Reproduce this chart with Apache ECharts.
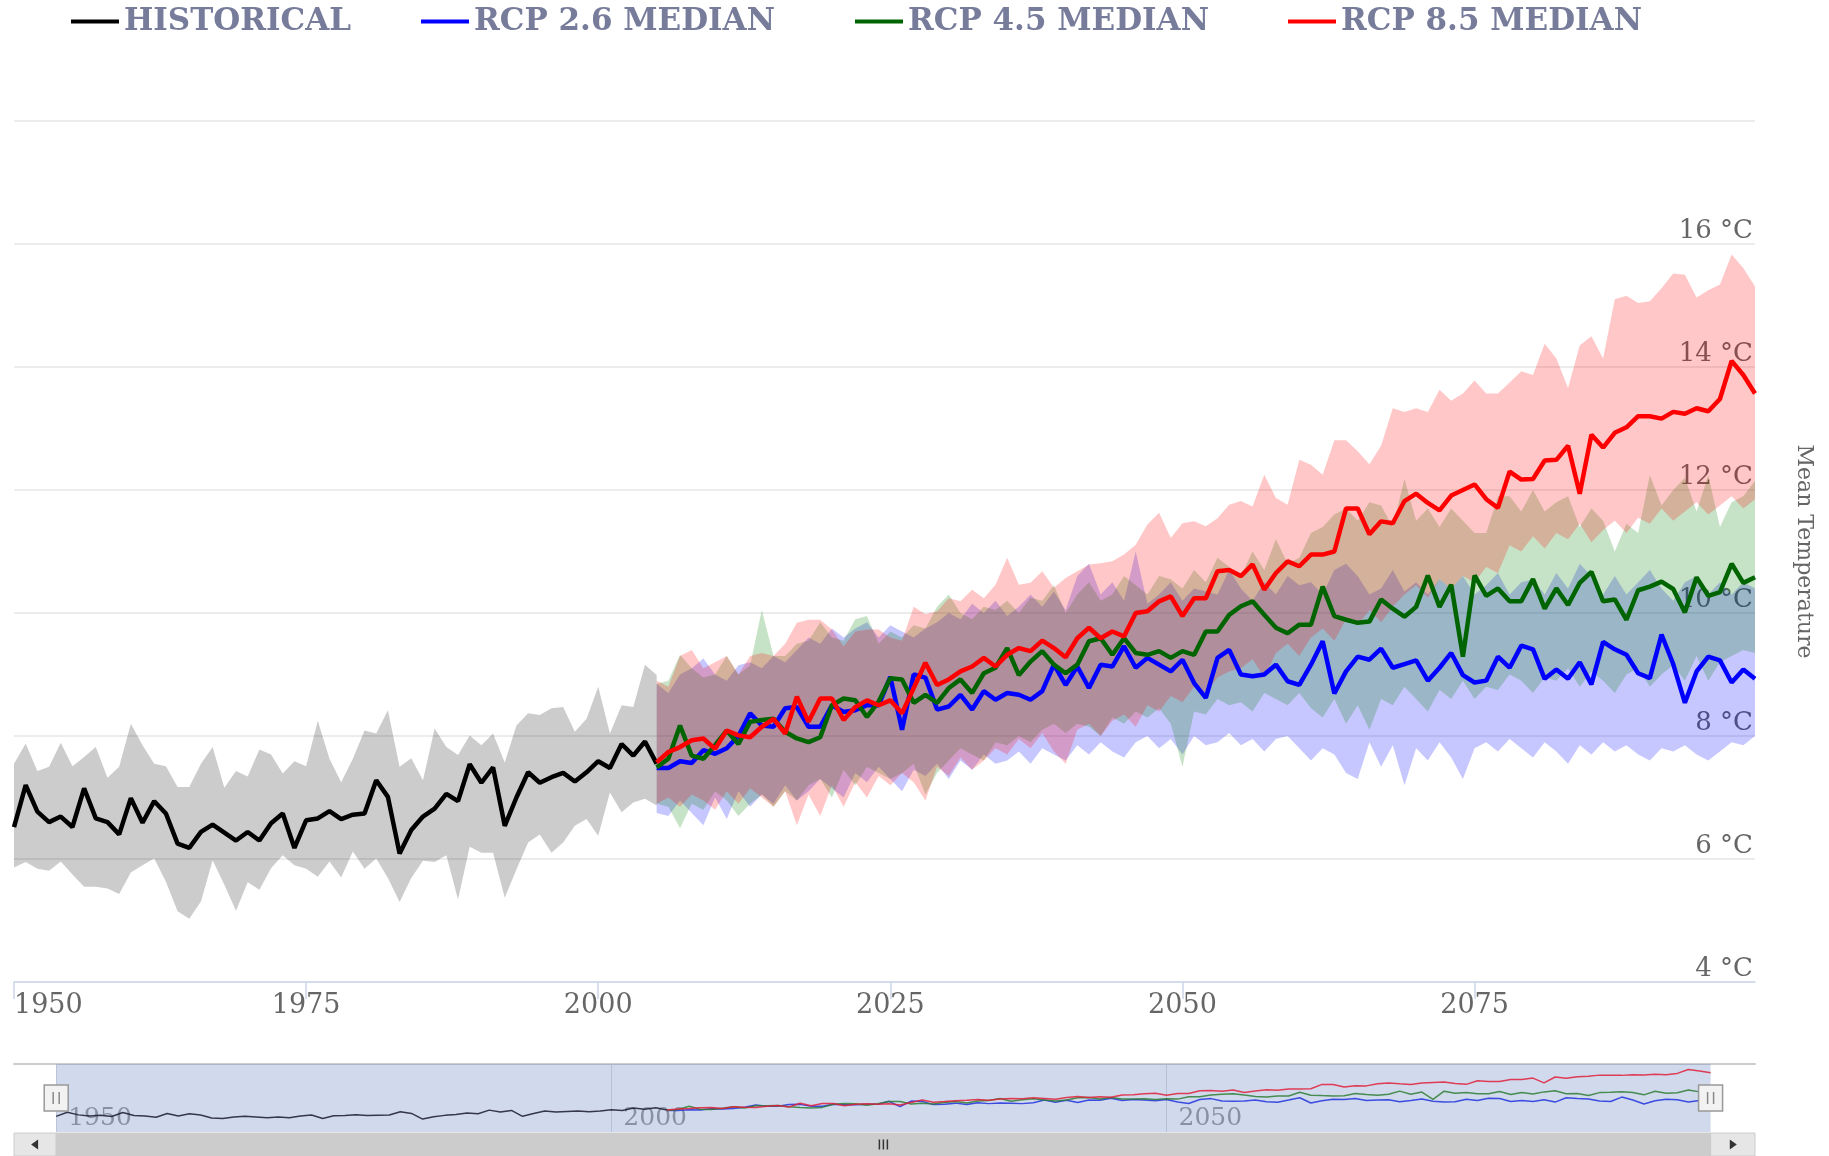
<!DOCTYPE html>
<html>
<head>
<meta charset="utf-8">
<script src="https://cdn.jsdelivr.net/npm/echarts@6/dist/echarts.min.js"></script>
<style>
html,body{margin:0;padding:0;background:#fff;}
#chart{width:1829px;height:1156px;}
</style>
</head>
<body>
<div id="chart"></div>
<script>
// ---------------- DATA ----------------
const HIST_START = 1950;   // first year of historical series
const RCP_START = 2005;    // first year of projections

const xTickYears = [1950, 1975, 2000, 2025, 2050, 2075];
const navTickYears = [1950, 2000, 2050];

const histMedian = [6.52,7.2,6.77,6.6,6.69,6.52,7.15,6.66,6.6,6.4,
  6.99,6.59,6.94,6.74,6.25,6.18,6.44,6.56,6.43,6.3,
  6.44,6.3,6.58,6.74,6.18,6.63,6.66,6.78,6.65,6.72,
  6.74,7.28,7.01,6.09,6.47,6.69,6.82,7.06,6.94,7.54,
  7.24,7.49,6.54,7.0,7.41,7.24,7.33,7.4,7.26,7.41,
  7.59,7.48,7.87,7.68,7.91,7.55];
const histHigh = [7.55,7.88,7.43,7.5,7.89,7.51,7.66,7.82,7.32,7.5,
  8.2,7.85,7.55,7.51,7.17,7.17,7.55,7.82,7.16,7.43,
  7.34,7.78,7.7,7.39,7.59,7.51,8.25,7.63,7.25,7.63,
  8.09,8.04,8.42,7.5,7.64,7.28,8.12,7.82,7.69,8.01,
  7.85,8.04,7.57,8.17,8.37,8.34,8.45,8.47,8.07,8.28,
  8.8,8.04,8.5,8.47,9.16,8.99];
const histLow = [5.86,5.95,5.84,5.81,5.96,5.75,5.55,5.55,5.52,5.43,
  5.78,5.9,6.01,5.63,5.15,5.03,5.31,5.98,5.58,5.16,
  5.62,5.5,5.85,6.06,5.9,5.84,5.71,5.96,5.7,6.12,
  5.84,6.01,5.69,5.3,5.69,5.97,5.95,6.06,5.34,6.2,
  6.1,6.1,5.37,5.83,6.27,6.4,6.1,6.27,6.54,6.65,
  6.38,7.08,6.76,6.92,6.98,6.87];

const rcp26Median = [7.48,7.48,7.59,7.56,7.77,7.71,7.8,8.0,8.37,8.17,
  8.15,8.45,8.47,8.15,8.15,8.5,8.39,8.42,8.5,8.5,
  8.96,8.1,9.0,8.95,8.43,8.48,8.67,8.43,8.73,8.59,
  8.7,8.67,8.59,8.73,9.16,8.83,9.13,8.78,9.16,9.13,
  9.46,9.11,9.27,9.16,9.05,9.24,8.86,8.62,9.27,9.4,
  9.0,8.97,9.0,9.16,8.89,8.83,9.16,9.54,8.69,9.05,
  9.29,9.24,9.42,9.11,9.17,9.23,8.9,9.11,9.35,8.99,
  8.87,8.9,9.29,9.11,9.47,9.41,8.93,9.08,8.93,9.2,
  8.84,9.53,9.41,9.32,9.02,8.94,9.65,9.17,8.54,9.05,
  9.29,9.23,8.87,9.08,8.93];
const rcp26High = [8.85,8.7,9.0,9.1,9.26,9.0,8.9,9.15,9.2,9.1,
  9.3,9.2,9.4,9.6,9.5,9.75,9.6,9.75,9.85,9.6,
  9.8,9.7,9.6,9.75,9.85,10.0,9.9,10.15,10.0,10.2,
  9.95,10.1,10.3,10.1,10.35,10.05,10.6,10.8,10.3,10.5,
  10.2,11.0,10.15,10.3,10.5,10.2,10.4,10.35,10.3,10.7,
  10.4,10.2,10.5,10.3,10.6,10.45,10.5,10.3,10.7,10.8,
  10.6,10.3,10.4,10.7,10.35,10.5,10.3,10.55,10.4,10.6,
  10.3,10.45,10.65,10.3,10.5,10.55,10.3,10.65,10.4,10.8,
  10.6,10.3,10.6,10.3,10.5,10.7,10.4,10.2,10.5,10.6,
  10.3,10.5,10.3,10.5,10.4];
const rcp26Low = [6.75,6.7,6.95,6.75,6.55,7.0,6.65,7.1,6.85,7.05,
  6.9,7.2,6.95,7.1,7.3,7.15,7.0,7.4,7.25,7.5,
  7.3,7.1,7.45,7.35,7.55,7.3,7.6,7.45,7.7,7.55,
  7.6,7.75,7.55,7.8,7.7,7.6,7.85,7.7,7.9,7.75,
  7.65,7.9,8.0,7.8,7.95,7.7,8.0,7.85,7.9,8.05,
  7.85,7.95,7.75,7.95,8.0,7.8,7.6,7.8,7.7,7.4,
  7.3,7.9,7.5,7.85,7.2,7.8,7.6,7.9,7.65,7.3,
  7.8,7.9,7.75,7.95,7.8,7.65,7.9,7.75,7.55,7.85,
  7.7,7.9,7.75,7.85,7.7,7.6,7.8,7.75,7.85,7.7,
  7.6,7.75,7.9,7.85,8.0];

const rcp45Median = [7.49,7.63,8.17,7.68,7.63,7.85,8.09,7.87,8.23,8.26,
  8.28,8.07,7.96,7.9,7.98,8.5,8.61,8.58,8.31,8.56,
  8.94,8.92,8.54,8.67,8.54,8.78,8.92,8.7,9.02,9.11,
  9.43,8.99,9.21,9.38,9.16,9.02,9.16,9.54,9.59,9.32,
  9.59,9.35,9.32,9.38,9.27,9.38,9.32,9.7,9.7,9.97,
  10.11,10.19,9.97,9.76,9.67,9.81,9.81,10.43,9.95,9.89,
  9.84,9.86,10.22,10.07,9.94,10.1,10.61,10.1,10.46,9.29,
  10.61,10.28,10.4,10.19,10.19,10.55,10.07,10.4,10.13,10.49,
  10.67,10.19,10.22,9.89,10.37,10.43,10.51,10.39,10.01,10.58,
  10.28,10.34,10.8,10.49,10.58];
const rcp45High = [8.85,8.9,9.32,9.1,8.95,9.0,9.3,9.0,9.15,10.05,
  9.3,9.3,9.5,9.55,9.85,9.6,9.55,9.9,9.95,9.5,
  9.7,9.6,9.8,9.75,10.1,10.3,10.0,9.9,10.1,10.05,
  10.2,10.0,10.25,10.2,10.45,10.0,10.3,10.5,10.2,10.3,
  10.6,10.45,10.3,10.6,10.55,10.4,10.7,10.5,10.9,10.75,
  10.6,11.0,10.7,11.2,10.8,10.9,11.3,11.4,11.6,11.7,
  11.5,11.8,11.75,11.4,12.18,11.5,11.7,11.4,11.7,11.5,
  11.3,11.3,11.9,11.9,11.65,12.0,11.65,11.8,11.9,11.4,
  11.7,11.5,11.0,11.45,11.3,12.24,11.75,12.0,12.2,11.65,
  12.24,11.4,11.8,11.9,12.15];
const rcp45Low = [6.9,6.85,6.5,6.9,6.8,7.1,6.95,6.7,6.9,7.05,
  6.85,7.1,6.95,7.2,7.3,7.0,7.45,7.2,7.5,7.4,
  7.3,7.4,7.55,7.05,7.4,7.6,7.8,7.7,7.6,7.9,
  7.85,8.0,7.9,8.1,8.2,8.05,8.2,8.15,8.0,8.3,
  8.2,8.4,8.3,8.45,8.2,7.5,8.4,8.35,8.6,8.5,
  8.55,8.4,8.7,8.6,8.5,8.7,8.45,8.3,8.6,8.2,
  8.5,8.1,8.6,8.5,8.8,8.6,8.4,8.75,8.6,8.9,
  8.6,8.8,8.75,9.0,8.9,8.7,8.95,8.9,9.1,8.8,
  9.05,8.9,8.7,9.0,9.1,8.8,9.0,9.15,8.9,9.3,
  8.9,9.2,9.3,9.4,9.35];

const rcp85Median = [7.57,7.74,7.82,7.93,7.96,7.79,8.09,8.01,7.98,8.15,
  8.28,8.04,8.64,8.23,8.61,8.61,8.26,8.47,8.58,8.5,
  8.58,8.37,8.78,9.19,8.83,8.92,9.05,9.13,9.27,9.13,
  9.32,9.43,9.38,9.55,9.43,9.28,9.59,9.76,9.59,9.7,
  9.62,10.0,10.03,10.19,10.27,9.95,10.24,10.24,10.68,10.7,
  10.6,10.79,10.38,10.65,10.84,10.76,10.95,10.95,11.0,11.7,
  11.7,11.28,11.49,11.46,11.82,11.94,11.79,11.67,11.91,12.0,
  12.09,11.85,11.71,12.3,12.17,12.18,12.48,12.49,12.72,11.94,
  12.9,12.69,12.93,13.02,13.2,13.2,13.16,13.27,13.24,13.33,
  13.28,13.48,14.1,13.87,13.57];
const rcp85High = [8.9,8.8,9.3,9.4,9.1,9.2,9.3,9.0,9.3,9.35,
  9.3,9.5,9.84,9.89,9.89,9.73,9.46,9.7,9.73,9.73,
  9.6,9.55,10.1,9.98,10.03,10.24,10.19,10.38,10.24,10.46,
  10.9,10.46,10.49,10.68,10.41,10.57,10.68,10.79,10.81,10.84,
  10.95,11.11,11.44,11.63,11.22,11.46,11.49,11.41,11.54,11.76,
  11.82,11.73,12.25,11.87,11.76,12.49,12.41,12.25,12.81,12.81,
  12.63,12.42,12.72,13.33,13.27,13.33,13.27,13.63,13.45,13.57,
  13.78,13.57,13.57,13.75,13.93,13.87,14.38,14.14,13.66,14.35,
  14.5,14.14,15.1,15.16,15.04,15.07,15.28,15.52,15.5,15.13,
  15.25,15.34,15.83,15.61,15.31];
const rcp85Low = [6.9,7.0,6.85,7.05,6.95,6.8,7.1,6.9,7.15,7.0,
  6.85,7.1,6.55,7.05,6.7,7.2,6.85,7.25,7.0,7.35,
  7.2,7.4,7.25,6.95,7.5,7.35,7.65,7.45,7.6,7.8,
  7.7,7.95,7.8,8.05,7.75,7.55,8.1,8.2,8.0,8.25,
  8.35,8.15,8.5,8.4,8.65,8.55,8.8,8.7,8.95,9.05,
  9.1,9.25,8.95,9.35,9.5,9.3,9.6,9.75,9.55,9.9,
  9.8,10.05,9.85,10.1,10.3,10.45,10.25,10.55,10.4,10.6,
  10.5,10.75,10.65,11.1,11.0,11.25,11.05,11.3,11.2,11.45,
  11.15,11.35,11.5,11.3,11.55,11.45,11.7,11.5,11.65,11.8,
  11.6,11.75,11.9,11.7,11.85];

// ---------------- HELPERS ----------------
const pairs = (start, arr) => arr.map((v, i) => [start + i, v]);

const SERIF = "'DejaVu Serif', 'Liberation Serif', serif";
const NAV_MIN = 1946.2, NAV_MAX = 2103;

const C_HIST = '#000000', C_26 = '#0000ff', C_45 = '#006400', C_85 = '#ff0000';

// range band: one polygon built from upper edge then lower edge, projected by the axes
function bandSeries(name, start, lo, hi, fill) {
  const data = lo.map((l, i) => [start + i, l, hi[i]]);
  return {
    name: name, type: 'custom', data: data, silent: true, z: 1,
    encode: { x: 0, y: [1, 2] },
    renderItem: function (params, api) {
      if (params.dataIndex !== 0) return null;
      const pts = [];
      for (let i = 0; i < data.length; i++) pts.push(api.coord([data[i][0], data[i][2]]));
      for (let i = data.length - 1; i >= 0; i--) pts.push(api.coord([data[i][0], data[i][1]]));
      return { type: 'polygon', shape: { points: pts }, style: { fill: fill, stroke: null } };
    }
  };
}
function medianSeries(name, start, arr, color, z) {
  return { name: name, type: 'line', data: pairs(start, arr), symbol: 'none',
    lineStyle: { color: color, width: 4.5 }, itemStyle: { color: color }, z: z };
}
function navSeries(name, start, arr, color) {
  return { name: name, type: 'line', xAxisIndex: 1, yAxisIndex: 1, data: pairs(start, arr),
    symbol: 'none', lineStyle: { color: color, width: 1.5, opacity: 0.85 }, itemStyle: { color: color },
    silent: true, z: 3 };
}

const legendBase = {
  orient: 'horizontal', top: 1, itemWidth: 48, itemHeight: 4, itemGap: 0, icon: 'rect',
  textStyle: { fontFamily: SERIF, fontWeight: 'bold', fontSize: 31, color: '#777c9b' }
};

const chart = echarts.init(document.getElementById('chart'), null, { renderer: 'canvas' });

const option = {
  animation: false,
  backgroundColor: '#ffffff',
  legend: [
    Object.assign({}, legendBase, { left: 66, data: ['HISTORICAL'] }),
    Object.assign({}, legendBase, { left: 416, data: ['RCP 2.6 MEDIAN'] }),
    Object.assign({}, legendBase, { left: 850, data: ['RCP 4.5 MEDIAN'] }),
    Object.assign({}, legendBase, { left: 1283, data: ['RCP 8.5 MEDIAN'] })
  ],
  grid: [
    { left: 14, right: 74, top: 121, height: 861 },
    { left: 14, right: 74, top: 1064, height: 68 }
  ],
  xAxis: [
    { type: 'value', gridIndex: 0, min: HIST_START, max: 2099,
      axisLine: { show: true, lineStyle: { color: '#ccd6eb', width: 1.5 } },
      axisTick: { show: true, length: 17, customValues: xTickYears, lineStyle: { color: '#ccd6eb', width: 1.5 } },
      axisLabel: { customValues: xTickYears, color: '#666666', fontFamily: SERIF, fontSize: 27, margin: 10,
        alignMinLabel: 'left', formatter: v => String(v) },
      splitLine: { show: false } },
    { type: 'value', gridIndex: 1, min: NAV_MIN, max: NAV_MAX, position: 'bottom',
      axisLine: { show: false },
      axisTick: { show: false, customValues: navTickYears },
      axisLabel: { customValues: navTickYears, inside: true, align: 'left', verticalAlign: 'bottom',
        margin: 1, padding: [0, 0, 0, 12], color: '#999999', fontFamily: SERIF, fontSize: 25,
        formatter: v => String(v) },
      splitLine: { show: true, lineStyle: { color: '#d8dbe3', width: 1 } } },
    { type: 'value', gridIndex: 1, min: NAV_MIN, max: NAV_MAX, position: 'top',
      axisLine: { show: true, lineStyle: { color: '#cccccc', width: 2 } },
      axisTick: { show: false }, axisLabel: { show: false }, splitLine: { show: false } }
  ],
  yAxis: [
    { type: 'value', gridIndex: 0, min: 4, max: 18, interval: 2, position: 'right',
      axisLine: { show: false }, axisTick: { show: false },
      axisLabel: { inside: true, verticalAlign: 'bottom', margin: 2, color: '#666666',
        fontFamily: SERIF, fontSize: 26, formatter: v => (v === 18 ? '' : v + ' °C') },
      splitLine: { show: true, lineStyle: { color: '#e6e6e6', width: 1.5 } },
      name: 'Mean Temperature', nameLocation: 'middle', nameRotate: -90, nameGap: 38,
      nameTextStyle: { color: '#666666', fontFamily: SERIF, fontSize: 22 } },
    { type: 'value', gridIndex: 1, min: 4, max: 15, show: false, splitLine: { show: false } }
  ],
  series: [
    bandSeries('historical range', HIST_START, histLow, histHigh, 'rgba(0,0,0,0.2)'),
    bandSeries('RCP 2.6 range', RCP_START, rcp26Low, rcp26High, 'rgba(0,0,255,0.22)'),
    bandSeries('RCP 4.5 range', RCP_START, rcp45Low, rcp45High, 'rgba(0,128,0,0.22)'),
    bandSeries('RCP 8.5 range', RCP_START, rcp85Low, rcp85High, 'rgba(255,0,0,0.22)'),
    medianSeries('HISTORICAL', HIST_START, histMedian, C_HIST, 5),
    medianSeries('RCP 2.6 MEDIAN', RCP_START, rcp26Median, C_26, 6),
    medianSeries('RCP 4.5 MEDIAN', RCP_START, rcp45Median, C_45, 7),
    medianSeries('RCP 8.5 MEDIAN', RCP_START, rcp85Median, C_85, 8),
    Object.assign(navSeries('HISTORICAL', HIST_START, histMedian, '#1a1a2e'), {
      markArea: { silent: true, itemStyle: { color: 'rgba(102,133,194,0.3)' },
        data: [[{ xAxis: HIST_START }, { xAxis: RCP_START + rcp85Median.length - 1 }]] } }),
    navSeries('RCP 2.6 MEDIAN', RCP_START, rcp26Median, '#2233dd'),
    navSeries('RCP 4.5 MEDIAN', RCP_START, rcp45Median, '#2e7d32'),
    navSeries('RCP 8.5 MEDIAN', RCP_START, rcp85Median, '#e0203a')
  ]
};
chart.setOption(option);

// ---- navigator handles & scrollbar (positions taken from the navigator axis scale) ----
(function () {
  const lastYear = RCP_START + rcp85Median.length - 1;
  const px = v => chart.convertToPixel({ xAxisIndex: 1 }, v);
  const py = v => chart.convertToPixel({ yAxisIndex: 1 }, v);
  const x0 = px(HIST_START), x1 = px(lastYear);
  const gl = px(NAV_MIN), gr = px(NAV_MAX);
  const navTop = py(15), navBot = py(4);
  const hy = (navTop + navBot) / 2;
  const sbTop = navBot + 1, sbH = 1156 - sbTop;
  const sbMid = sbTop + sbH / 2;
  const g = [];
  g.push({ type: 'rect', shape: { x: gl, y: sbTop, width: gr - gl, height: sbH }, style: { fill: '#f2f2f2' }, silent: true, z: 10 });
  g.push({ type: 'rect', shape: { x: gl, y: sbTop, width: x0 - gl, height: sbH }, style: { fill: '#e6e6e6', stroke: '#cccccc', lineWidth: 1 }, silent: true, z: 10 });
  g.push({ type: 'rect', shape: { x: x1, y: sbTop, width: gr - x1, height: sbH }, style: { fill: '#e6e6e6', stroke: '#cccccc', lineWidth: 1 }, silent: true, z: 10 });
  g.push({ type: 'rect', shape: { x: x0, y: sbTop, width: x1 - x0, height: sbH }, style: { fill: '#cccccc', stroke: '#cccccc' }, silent: true, z: 10 });
  const lbx = (gl + x0) / 2, rbx = (x1 + gr) / 2;
  g.push({ type: 'polygon', shape: { points: [[lbx - 4, sbMid], [lbx + 3, sbMid - 5], [lbx + 3, sbMid + 5]] }, style: { fill: '#333333' }, silent: true, z: 11 });
  g.push({ type: 'polygon', shape: { points: [[rbx + 4, sbMid], [rbx - 3, sbMid - 5], [rbx - 3, sbMid + 5]] }, style: { fill: '#333333' }, silent: true, z: 11 });
  const tc = (x0 + x1) / 2;
  [-4, 0, 4].forEach(d => g.push({ type: 'line', shape: { x1: tc + d, y1: sbMid - 5, x2: tc + d, y2: sbMid + 5 }, style: { stroke: '#333333', lineWidth: 1.5 }, silent: true, z: 11 }));
  [x0, x1].forEach(x => {
    g.push({ type: 'rect', shape: { x: x - 12, y: hy - 13, width: 24, height: 26 }, style: { fill: '#f2f2f2', stroke: '#999999', lineWidth: 1.5 }, silent: true, z: 12 });
    [-3, 3].forEach(d => g.push({ type: 'line', shape: { x1: x + d, y1: hy - 6, x2: x + d, y2: hy + 6 }, style: { stroke: '#888888', lineWidth: 1.5 }, silent: true, z: 13 }));
  });
  chart.setOption({ graphic: g });
})();
</script>
</body>
</html>
